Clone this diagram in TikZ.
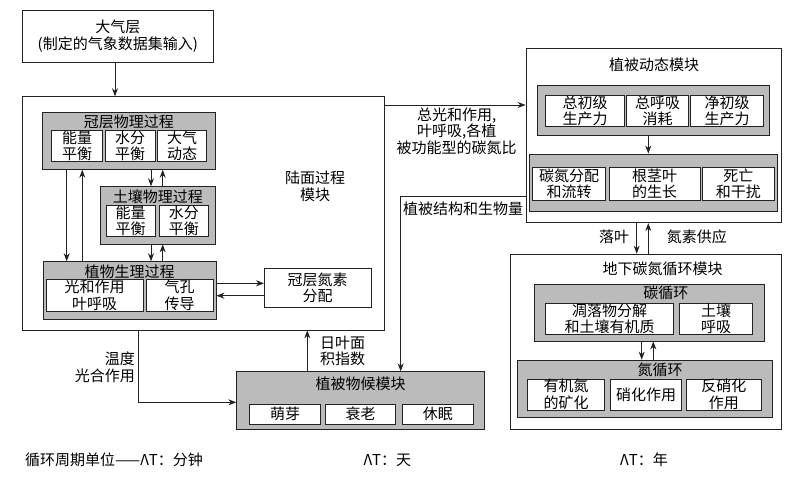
\documentclass[tikz,border=0pt]{standalone}
\usepackage{fontspec}
\setmainfont{Noto Sans CJK SC}
\usetikzlibrary{arrows.meta}
\definecolor{gfill}{HTML}{BBBBBB}
\definecolor{lcol}{HTML}{222222}
\tikzset{
  every node/.style={font=\fontsize{15}{16.6}\selectfont, inner sep=0pt, text=black},
  wbox/.style={draw=lcol, fill=white, align=center, line width=0.8pt},
  gbox/.style={draw=lcol, fill=gfill, line width=0.8pt},
  txt/.style={align=center},
  arr/.style={-{Stealth[length=8pt,width=6pt]}, line width=0.8pt, draw=lcol},
  ln/.style={line width=0.8pt, draw=lcol}
}
\begin{document}
\begin{tikzpicture}[x=1pt,y=-1pt]
\useasboundingbox (0,0) rectangle (793,477);
% atmosphere
\node[wbox, minimum width=190.3pt, minimum height=52.7pt] (atm) at (117.8,36.3) {大气层\\(制定的气象数据集输入)};
% land module
\node[wbox, minimum width=361.3pt, minimum height=233.3pt] (land) at (203.3,213.3) {};
\node[txt] (landlbl) at (315,186.5) {陆面过程\\模块};
% canopy physics
\node[gbox, minimum width=172.3pt, minimum height=57.3pt] (canopy) at (128.8,140.7) {};
\node (canopyt) at (128.8,121.5) {冠层物理过程};
\node[wbox, minimum width=51pt, minimum height=31.7pt] (c1) at (77.2,145.8) {能量\\平衡};
\node[wbox, minimum width=49.7pt, minimum height=31.7pt] (c2) at (130.2,145.8) {水分\\平衡};
\node[wbox, minimum width=49.4pt, minimum height=31.7pt] (c3) at (182,145.8) {大气\\动态};
% soil physics
\node[gbox, minimum width=114.3pt, minimum height=57.3pt] (soil) at (157.8,215.3) {};
\node (soilt) at (157.8,196.5) {土壤物理过程};
\node[wbox, minimum width=49pt, minimum height=31.5pt] (s1) at (130.5,220.8) {能量\\平衡};
\node[wbox, minimum width=49pt, minimum height=31.5pt] (s2) at (183.8,220.8) {水分\\平衡};
% plant physiology
\node[gbox, minimum width=172.7pt, minimum height=57.3pt] (plant) at (129.7,290.3) {};
\node (plantt) at (129.7,271.5) {植物生理过程};
\node[wbox, minimum width=97.3pt, minimum height=31.7pt] (p1) at (94.7,295.2) {光和作用\\叶呼吸};
\node[wbox, minimum width=67.3pt, minimum height=31.7pt] (p2) at (179.7,295.2) {气孔\\传导};
% canopy nitrogen
\node[wbox, minimum width=106.7pt, minimum height=39pt] (cn) at (317.7,287.8) {冠层氮素\\分配};
% phenology
\node[gbox, minimum width=247.6pt, minimum height=57.6pt] (phen) at (360.5,400.5) {};
\node (phent) at (360.5,384) {植被物候模块};
\node[wbox, minimum width=71.4pt, minimum height=20pt] (ph1) at (285,414) {萌芽};
\node[wbox, minimum width=70pt, minimum height=20pt] (ph2) at (360.7,414) {衰老};
\node[wbox, minimum width=71pt, minimum height=20pt] (ph3) at (437.8,414) {休眠};
% vegetation dynamics
\node[wbox, minimum width=255pt, minimum height=174.4pt] (vd) at (653.5,135.5) {};
\node (vdt) at (654,65) {植被动态模块};
\node[gbox, minimum width=231.6pt, minimum height=50pt] (vdu) at (653.5,110) {};
\node[wbox, minimum width=78.6pt, minimum height=31.7pt] (u1) at (585,110.8) {总初级\\生产力};
\node[wbox, minimum width=62pt, minimum height=31.7pt] (u2) at (657.7,110.8) {总呼吸\\消耗};
\node[wbox, minimum width=72.6pt, minimum height=31.7pt] (u3) at (727,110.8) {净初级\\生产力};
\node[gbox, minimum width=248.4pt, minimum height=57.7pt] (vdl) at (653.5,182.8) {};
\node[wbox, minimum width=73pt, minimum height=32.3pt] (l1) at (569.2,183.8) {碳氮分配\\和流转};
\node[wbox, minimum width=91pt, minimum height=32.3pt] (l2) at (654.5,183.8) {根茎叶\\的生长};
\node[wbox, minimum width=72pt, minimum height=32.3pt] (l3) at (738.3,183.8) {死亡\\和干扰};
% belowground
\node[wbox, minimum width=271.7pt, minimum height=175.3pt] (bg) at (645.8,341.7) {};
\node (bgt) at (662.5,269.3) {地下碳氮循环模块};
\node[gbox, minimum width=230.3pt, minimum height=57pt] (carb) at (649.2,312.5) {};
\node (carbt) at (665.8,293.3) {碳循环};
\node[wbox, minimum width=127.6pt, minimum height=30.7pt] (cb1) at (609.5,318.7) {凋落物分解\\和土壤有机质};
\node[wbox, minimum width=73.4pt, minimum height=30.7pt] (cb2) at (716,318.7) {土壤\\呼吸};
\node[gbox, minimum width=255pt, minimum height=57.3pt] (nit) at (645.2,388.7) {};
\node (nitt) at (660,370) {氮循环};
\node[wbox, minimum width=76.6pt, minimum height=31pt] (n1) at (566,394.5) {有机氮\\的矿化};
\node[wbox, minimum width=71pt, minimum height=31pt] (n2) at (646.2,394.5) {硝化作用};
\node[wbox, minimum width=75.7pt, minimum height=31pt] (n3) at (723.8,394.5) {反硝化\\作用};
% helper coordinates
\coordinate (xatm) at (115,0);
\coordinate (xa) at (66.7,0);
\coordinate (xb) at (82.3,0);
\coordinate (xc) at (151,0);
\coordinate (xd) at (162.7,0);
\coordinate (xe) at (138.3,0);
\coordinate (xf) at (307.3,0);
\coordinate (xg) at (400.7,0);
\coordinate (xh) at (648.3,0);
\coordinate (xi) at (636.7,0);
\coordinate (xj) at (641.7,0);
\coordinate (xk) at (653.3,0);
\coordinate (ya) at (0,283.3);
\coordinate (yb) at (0,295.7);
\coordinate (yc) at (0,105);
\coordinate (yd) at (0,196.7);
\coordinate (ye) at (0,402.3);
\coordinate (cornerA) at (xe |- ye);
\coordinate (cornerB) at (xg |- yd);
% connectors
\draw[arr] (atm.south -| xatm) -- (land.north -| xatm);
\draw[arr] (canopy.south -| xa) -- (plant.north -| xa);
\draw[arr] (plant.north -| xb) -- (canopy.south -| xb);
\draw[arr] (canopy.south -| xc) -- (soil.north -| xc);
\draw[arr] (soil.north -| xd) -- (canopy.south -| xd);
\draw[arr] (soil.south -| xc) -- (plant.north -| xc);
\draw[arr] (plant.north -| xd) -- (soil.south -| xd);
\draw[arr] (plant.east |- ya) -- (cn.west |- ya);
\draw[arr] (cn.west |- yb) -- (plant.east |- yb);
\draw[arr] (land.south -| xe) -- (cornerA) -- (phen.west |- ye);
\draw[arr] (phen.north -| xf) -- (land.south -| xf);
\draw[arr] (land.east |- yc) -- (vd.west |- yc);
\draw[arr] (vd.west |- yd) -- (cornerB) -- (phen.north -| xg);
\draw[arr] (vdu.south -| xh) -- (vdl.north -| xh);
\draw[arr] (vd.south -| xi) -- (bg.north -| xi);
\draw[arr] (bg.north -| xh) -- (vd.south -| xh);
\draw[arr] (carb.south -| xj) -- (nit.north -| xj);
\draw[arr] (nit.north -| xk) -- (carb.south -| xk);
% labels
\node[align=right, anchor=east] (lblT) at (135,367) {温度\\光合作用};
\node[align=left, anchor=west] (lblL) at (320,351) {日叶面\\积指数};
\node[txt] (lblG) at (456.7,131) {总光和作用,\\叶呼吸,各植\\被功能型的碳氮比};
\node[anchor=west] (lblV) at (403,208.3) {植被结构和生物量};
\node[anchor=east] (lblF) at (629.3,236.7) {落叶};
\node[anchor=west] (lblN) at (666.7,236.7) {氮素供应};
\node[anchor=west] (foot1) at (25,460) {循环周期单位——ΛT：分钟};
\node[anchor=west] (foot2) at (363.3,460) {ΛT：天};
\node[anchor=west] (foot3) at (620,460) {ΛT：年};
\end{tikzpicture}
\end{document}
